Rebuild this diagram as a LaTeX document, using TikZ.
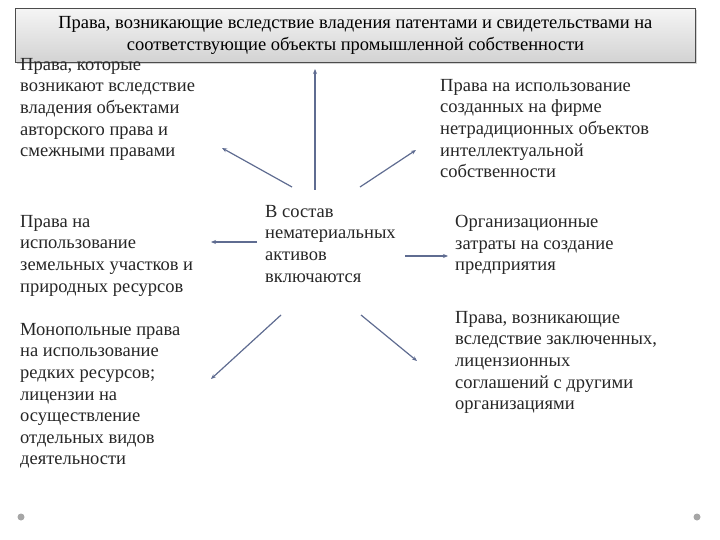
\documentclass[tikz,border=0pt]{standalone}
\usepackage{fontspec}
\setmainfont{Liberation Serif}
\usetikzlibrary{arrows.meta,shadows}
\definecolor{arrc}{RGB}{95,108,145}
\begin{document}
\begin{tikzpicture}[x=1pt,y=-1pt,
  txt/.style={anchor=north west,inner sep=0pt,align=left,font=\fontsize{18.5}{21.6}\selectfont,text=black!85},
  arr/.style={draw=arrc,line width=1.2pt,-{Stealth[length=5pt,width=4pt]}},
  dot/.style={circle,fill=gray!70,inner sep=0pt,minimum size=7pt}]
\useasboundingbox (0,0) rectangle (720,540);
\node[draw=black!70,line width=0.8pt,top color=gray!8,bottom color=gray!35,drop shadow={opacity=0.35,shadow xshift=2pt,shadow yshift=-2pt},
  minimum width=680pt,minimum height=54pt,inner sep=0pt,align=center,font=\fontsize{18.5}{21.5}\selectfont,anchor=north west] (title) at (15,8)
  {Права, возникающие вследствие владения патентами и свидетельствами на\\соответствующие объекты промышленной собственности};
\node[txt] (l1) at (20,58) {Права, которые\\возникают вследствие\\владения объектами\\авторского права и\\смежными правами};
\node[txt] (l2) at (20,215) {Права на\\использование\\земельных участков и\\природных ресурсов};
\node[txt] (l3) at (20,323) {Монопольные права\\на использование\\редких ресурсов;\\лицензии на\\осуществление\\отдельных видов\\деятельности};
\node[txt] (r1) at (440,79) {Права на использование\\созданных на фирме\\нетрадиционных объектов\\интеллектуальной\\собственности};
\node[txt] (r2) at (455,215) {Организационные\\затраты на создание\\предприятия};
\node[txt] (r3) at (455,311) {Права, возникающие\\вследствие заключенных,\\лицензионных\\соглашений с другими\\организациями};
\node[txt] (c) at (265,205) {В состав\\нематериальных\\активов\\включаются};
\coordinate (a1) at (315,190); \coordinate (b1) at (315,69);
\coordinate (a2) at (292,187); \coordinate (b2) at (222,148);
\coordinate (a3) at (360,187); \coordinate (b3) at (416,150);
\coordinate (a4) at (257,242); \coordinate (b4) at (211,242);
\coordinate (a5) at (405,256); \coordinate (b5) at (448,256);
\coordinate (a6) at (281,315); \coordinate (b6) at (211,379);
\coordinate (a7) at (361,315); \coordinate (b7) at (417,361);
\foreach \i in {1,...,7} \draw[arr] (a\i) -- (b\i);
\node[dot] (d1) at (21,517) {};
\node[dot] (d2) at (697,517) {};
\end{tikzpicture}
\end{document}
